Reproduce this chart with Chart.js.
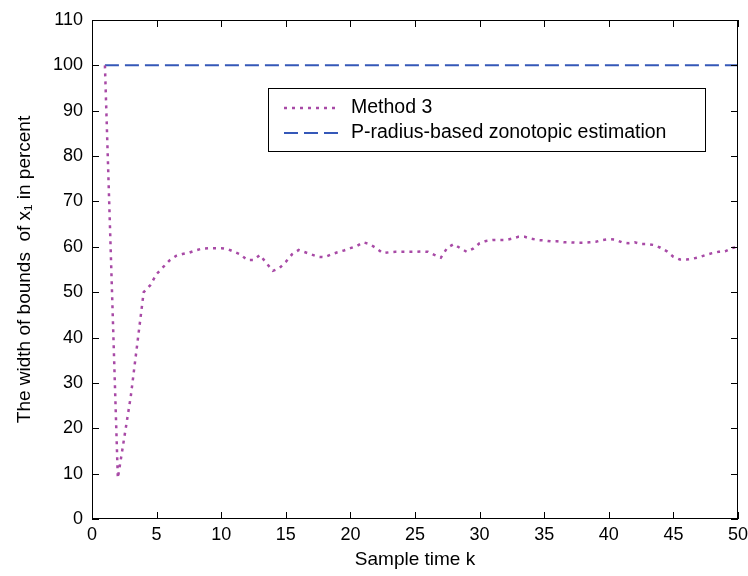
<!DOCTYPE html>
<html>
<head>
<meta charset="utf-8">
<script src="https://cdn.jsdelivr.net/npm/chart.js@4.4.1/dist/chart.umd.min.js"></script>
<style>
    html, body { margin: 0; padding: 0; background: #ffffff; }
</style>
</head>
<body>
<canvas id="chart" width="748" height="576"></canvas>
<script>
// ================== DATA ==================
const sampleK = [
    1, 2, 3, 4, 4.5, 5, 5.5, 6, 6.5, 7, 7.5, 8, 8.5, 9, 9.5, 10,
    10.5, 11, 11.5, 12, 12.5, 13, 13.5, 14, 14.5, 15, 15.5, 16, 16.5, 17, 17.5, 18,
    18.5, 19, 19.5, 20, 20.5, 21, 21.5, 22, 22.5, 23, 23.5, 24, 24.5, 25, 25.5, 26,
    26.5, 27, 27.5, 28, 28.5, 29, 29.5, 30, 30.5, 31, 31.5, 32, 32.5, 33, 33.5, 34,
    34.5, 35, 35.5, 36, 36.5, 37, 37.5, 38, 38.5, 39, 39.5, 40, 40.5, 41, 41.5, 42,
    42.5, 43, 43.5, 44, 44.5, 45, 45.5, 46, 46.5, 47, 47.5, 48, 48.5, 49, 49.5, 50
];
const method3Width = [
    100, 9, 27, 50, 51.5, 54, 55.5, 57, 58, 58.4, 58.7, 59.2, 59.6, 59.7, 59.7, 59.7,
    59.5, 58.9, 58.3, 57.1, 57.1, 58.2, 56.4, 54.7, 55.3, 56.7, 58.4, 59.3, 58.8, 58.3, 57.8, 57.7,
    58.3, 58.8, 59.2, 59.7, 60.2, 61, 60.6, 59.7, 58.6, 58.8, 58.9, 58.9, 58.9, 58.9, 59, 58.9,
    58.2, 57.6, 59.8, 60.6, 59.7, 58.9, 59.6, 60.8, 61.3, 61.5, 61.5, 61.5, 61.8, 62.2, 62.2, 61.8,
    61.5, 61.4, 61.2, 61.2, 61, 61, 60.9, 60.9, 61, 61.1, 61.5, 61.7, 61.6, 61, 60.8, 61,
    60.6, 60.6, 60.4, 59.8, 59, 57.8, 57.2, 57.2, 57.4, 57.7, 58.2, 58.6, 58.9, 59, 59.7, 60
];
const pRadiusK = [1, 50];
const pRadiusWidth = [100, 100];

const xTicks = [0, 5, 10, 15, 20, 25, 30, 35, 40, 45, 50];
const yTicks = [0, 10, 20, 30, 40, 50, 60, 70, 80, 90, 100, 110];

const seriesNames = ['Method 3', 'P-radius-based zonotopic estimation'];

// ================== STYLE ==================
const FONT = '"Liberation Sans", Arial, sans-serif';
const DOT_COLOR = '#a84aa6';
const DASH_COLOR = '#3558b8';
const DOT_DASH = [3, 5];
const DASH_DASH = [14, 6];

function toPoints(xs, ys) {
    return xs.map((k, i) => ({ x: k, y: ys[i] }));
}

// frame, inward ticks and legend box (MATLAB look)
const matlabFrame = {
    id: 'matlabFrame',
    afterDatasetsDraw(chart) {
        const { ctx, chartArea: a, scales: { x, y } } = chart;
        const len = 7;
        ctx.save();
        ctx.strokeStyle = '#000000';
        ctx.lineWidth = 1;
        ctx.setLineDash([]);
        ctx.strokeRect(a.left + 0.5, a.top + 0.5, a.right - a.left - 1, a.bottom - a.top - 1);

        ctx.beginPath();
        xTicks.forEach(v => {
            const px = Math.round(x.getPixelForValue(v)) + 0.5;
            ctx.moveTo(px, a.bottom); ctx.lineTo(px, a.bottom - len);
            ctx.moveTo(px, a.top); ctx.lineTo(px, a.top + len);
        });
        yTicks.forEach(v => {
            const py = Math.round(y.getPixelForValue(v)) + 0.5;
            ctx.moveTo(a.left, py); ctx.lineTo(a.left + len, py);
            ctx.moveTo(a.right, py); ctx.lineTo(a.right - len, py);
        });
        ctx.stroke();

        // legend
        const box = { l: 268, t: 88, r: 705, b: 151 };
        ctx.fillStyle = '#ffffff';
        ctx.fillRect(box.l, box.t, box.r - box.l, box.b - box.t);
        ctx.strokeRect(box.l + 0.5, box.t + 0.5, box.r - box.l, box.b - box.t);

        const rows = [
            { y: 108, color: DOT_COLOR, dash: DOT_DASH, width: 2.5 },
            { y: 133, color: DASH_COLOR, dash: DASH_DASH, width: 2 }
        ];
        rows.forEach((r, i) => {
            ctx.beginPath();
            ctx.strokeStyle = r.color;
            ctx.lineWidth = r.width;
            ctx.setLineDash(r.dash);
            ctx.moveTo(284, r.y);
            ctx.lineTo(340, r.y);
            ctx.stroke();
            ctx.setLineDash([]);
            ctx.fillStyle = '#000000';
            ctx.font = '19.5px ' + FONT;
            ctx.textBaseline = 'middle';
            ctx.textAlign = 'left';
            ctx.fillText(seriesNames[i], 351, r.y);
        });
        ctx.restore();
    }
};

// ================== CHART ==================
new Chart(document.getElementById('chart').getContext('2d'), {
    type: 'line',
    data: {
        datasets: [
            {
                label: seriesNames[0],
                data: toPoints(sampleK, method3Width),
                borderColor: DOT_COLOR,
                borderWidth: 2.5,
                borderDash: DOT_DASH,
                pointRadius: 0,
                tension: 0,
                fill: false
            },
            {
                label: seriesNames[1],
                data: toPoints(pRadiusK, pRadiusWidth),
                borderColor: DASH_COLOR,
                borderWidth: 2,
                borderDash: DASH_DASH,
                pointRadius: 0,
                tension: 0,
                fill: false
            }
        ]
    },
    options: {
        responsive: false,
        animation: false,
        devicePixelRatio: 1,
        layout: { padding: { top: 20, right: 10, left: 0, bottom: 0 } },
        plugins: {
            legend: { display: false },
            tooltip: { enabled: false }
        },
        scales: {
            x: {
                type: 'linear',
                min: 0,
                max: 50,
                afterBuildTicks: s => { s.ticks = xTicks.map(v => ({ value: v })); },
                afterFit: s => { s.height = 57; s.paddingLeft = 0; s.paddingRight = 0; },
                grid: { display: false, drawTicks: false },
                border: { display: false },
                ticks: {
                    padding: 5,
                    color: '#000000',
                    maxRotation: 0,
                    autoSkip: false,
                    font: { family: FONT, size: 18 }
                },
                title: {
                    display: true,
                    text: 'Sample time k',
                    color: '#000000',
                    padding: { top: 0, bottom: 5 },
                    font: { family: FONT, size: 19 }
                }
            },
            y: {
                type: 'linear',
                min: 0,
                max: 110,
                afterBuildTicks: s => { s.ticks = yTicks.map(v => ({ value: v })); },
                afterFit: s => { s.width = 92; s.paddingTop = 0; s.paddingBottom = 0; },
                grid: { display: false, drawTicks: false },
                border: { display: false },
                ticks: {
                    padding: 9,
                    color: '#000000',
                    autoSkip: false,
                    font: { family: FONT, size: 18 }
                },
                title: {
                    display: true,
                    text: 'The width of bounds  of x\u2081 in percent',
                    color: '#000000',
                    padding: { top: 13, bottom: 0 },
                    font: { family: FONT, size: 19 }
                }
            }
        }
    },
    plugins: [matlabFrame]
});
</script>
</body>
</html>
